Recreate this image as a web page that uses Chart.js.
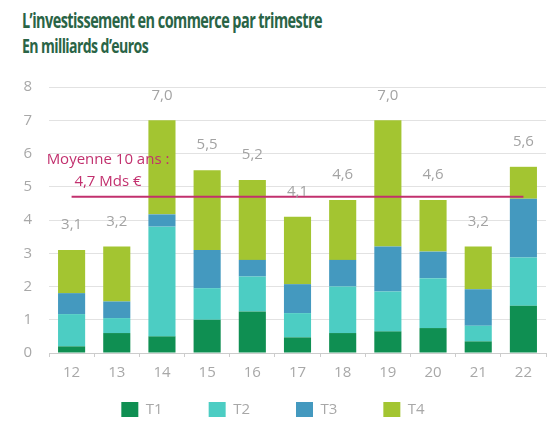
<!DOCTYPE html>
<html>
<head>
<meta charset="utf-8">
<script src="https://cdn.jsdelivr.net/npm/chart.js@4.4.0/dist/chart.umd.min.js"></script>
<style>
    body { margin: 0; background: #fff; }
    #wrap { position: relative; width: 559px; height: 421px; }
    #chart { position: absolute; left: 0; top: 0; }
    .title { position: absolute; left: 22px; color: #2a6446; font-family: "Open Sans", sans-serif; font-weight: bold; white-space: nowrap; transform-origin: left top; }
    #t1 { top: 6px; font-size: 21px; letter-spacing: -0.8px; }
    #t2 { top: 33px; font-size: 19px; letter-spacing: -0.8px; }
</style>
</head>
<body>
<div id="wrap">
    <div class="title" id="t1">L’investissement en commerce par trimestre</div>
    <div class="title" id="t2">En milliards d’euros</div>
    <canvas id="chart" width="559" height="421"></canvas>
</div>
<script>
const years = ['12', '13', '14', '15', '16', '17', '18', '19', '20', '21', '22'];
const t1 = [0.2, 0.6, 0.5, 1.0, 1.25, 0.47, 0.6, 0.65, 0.75, 0.35, 1.42];
const t2 = [0.97, 0.45, 3.3, 0.95, 1.05, 0.73, 1.4, 1.2, 1.5, 0.47, 1.45];
const t3 = [0.63, 0.5, 0.37, 1.15, 0.5, 0.87, 0.8, 1.35, 0.8, 1.1, 1.77];
const t4 = [1.3, 1.65, 2.83, 2.4, 2.4, 2.03, 1.8, 3.8, 1.55, 1.28, 0.96];
const totals = [3.1, 3.2, 7.0, 5.5, 5.2, 4.1, 4.6, 7.0, 4.6, 3.2, 5.6];
const moyenne = 4.7;

// squeeze the condensed-looking titles to their widths in the picture
[['t1', 300], ['t2', 126]].forEach(function(p) {
    const el = document.getElementById(p[0]);
    el.style.transform = 'scaleX(' + (p[1] / el.scrollWidth) + ')';
});

const totalLabels = {
    id: 'totalLabels',
    afterLayout(chart) {
        // wide legend spacing also adds top padding, so start the legend box higher
        chart.legend.top -= 33;
        chart.legend.height += 33;
    },
    afterDatasetsDraw(chart) {
        const ctx = chart.ctx;
        const x = chart.scales.x;
        const y = chart.scales.y;
        ctx.save();
        ctx.font = '15px "Open Sans"';
        ctx.fillStyle = '#a3a3a3';
        ctx.textAlign = 'center';
        ctx.textBaseline = 'middle';
        totals.forEach(function(v, i) {
            ctx.fillText(v.toFixed(1).replace('.', ','), x.getPixelForValue(i), y.getPixelForValue(v) - 25);
        });
        ctx.fillStyle = '#c2306e';
        ctx.fillText('Moyenne 10 ans :', 108, 160);
        ctx.fillText('4,7 Mds €', 108, 182);
        ctx.restore();
    }
};

const ctx = document.getElementById('chart').getContext('2d');
const chart = new Chart(ctx, {
    type: 'bar',
    data: {
        labels: years,
        datasets: [
            { type: 'line', label: 'Moyenne', data: years.map(function() { return moyenne; }), stack: 'avg', borderColor: '#c2306e', borderWidth: 2, pointRadius: 0, order: 0 },
            { label: 'T1', data: t1, backgroundColor: '#0f8f52', stack: 's', order: 1 },
            { label: 'T2', data: t2, backgroundColor: '#4ccdc3', stack: 's', order: 1 },
            { label: 'T3', data: t3, backgroundColor: '#4499bf', stack: 's', order: 1 },
            { label: 'T4', data: t4, backgroundColor: '#a3c531', stack: 's', order: 1 }
        ]
    },
    options: {
        responsive: false,
        animation: false,
        layout: { padding: { top: 87, right: 13, bottom: 0 } },
        datasets: { bar: { barPercentage: 0.6, categoryPercentage: 1 } },
        scales: {
            x: {
                stacked: true,
                afterFit: function(s) { s.height = 36; },
                grid: { drawOnChartArea: false, tickLength: 4, color: '#cccccc' },
                border: { color: '#cccccc' },
                ticks: { color: '#a8a8a8', font: { family: 'Open Sans', size: 15 }, padding: 7 }
            },
            y: {
                stacked: true,
                min: 0,
                max: 8,
                afterFit: function(s) { s.width = 49; },
                grid: { color: '#e2e2e2', drawTicks: false },
                border: { display: false },
                ticks: { stepSize: 1, color: '#a8a8a8', font: { family: 'Open Sans', size: 15 }, padding: 17 }
            }
        },
        plugins: {
            legend: {
                position: 'bottom',
                maxHeight: 32,
                labels: {
                    filter: function(item) { return item.text !== 'Moyenne'; },
                    boxWidth: 17,
                    boxHeight: 15,
                    padding: 46,
                    color: '#a8a8a8',
                    font: { family: 'Open Sans', size: 15 }
                }
            },
            tooltip: { enabled: false }
        }
    },
    plugins: [totalLabels]
});
</script>
</body>
</html>
